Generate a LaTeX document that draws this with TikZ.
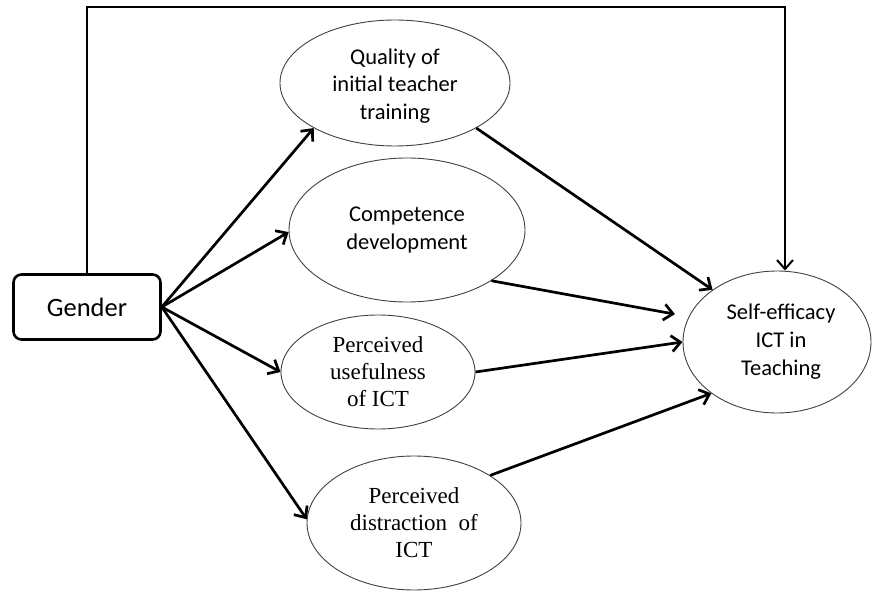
\documentclass[tikz,border=0pt]{standalone}
\usepackage{fontspec}
\setmainfont{Carlito}
\newfontfamily\timesf{Liberation Serif}
\usetikzlibrary{shapes.geometric,arrows.meta}
\begin{document}
\begin{tikzpicture}[x=1pt,y=-1pt,>={Straight Barb[length=9pt,width=16pt]},
    latent/.style={draw=black!75,line width=0.9pt,ellipse,inner sep=0pt,align=center,
        font=\fontsize{22.5}{27.5}\selectfont},
    latentserif/.style={latent,font=\timesf\fontsize{23}{27}\selectfont},
    path/.style={->,line width=2.7pt}]
        \useasboundingbox (0,0) rectangle (876,593);
        \node[draw,line width=2.6pt,rounded corners=8pt,minimum width=147pt,minimum height=65pt,
            font=\fontsize{26.5}{30}\selectfont] (gender) at (87,307) {Gender};
        \node[latent,minimum width=230pt,minimum height=126pt] (qual) at (395,83) {\\[-6pt]Quality of\\initial teacher\\training};
        \node[latent,minimum width=236pt,minimum height=144pt] (comp) at (407,230) {Competence\\development};
        \node[latentserif,minimum width=194pt,minimum height=114pt] (usef) at (378,372) {Perceived\\usefulness\\of ICT};
        \node[latentserif,minimum width=214pt,minimum height=134pt] (dist) at (414,523) {Perceived\\distraction\hspace{0.25em} of\\ICT};
        \node[latent,minimum width=188pt,minimum height=142pt,font=\fontsize{22.5}{28}\selectfont] (self) at (777,342) {\hspace{8pt}Self-efficacy\\\hspace{8pt}ICT in\\\hspace{8pt}Teaching};
        \coordinate (top) at (0,7.5);
        % gender to mediators
        \draw[path](gender.east)--(qual.209);
        \draw[path](gender.east)--(comp.181);
        \draw[path](gender.east)--(usef.180);
        \draw[path](gender.east)--(dist.178);
        % mediators to self-efficacy
        \draw[path](qual.331)--(self.141);
        \draw[path,shorten >=14pt](comp.329.5)--(self.164);
        \draw[path](usef.east)--(self.180);
        \draw[path](dist.32)--(self.218);
        % direct effect
        \draw[->,line width=2pt](gender.north)--(gender.north|-top)-|([xshift=8pt]self.north);
\end{tikzpicture}
\end{document}
